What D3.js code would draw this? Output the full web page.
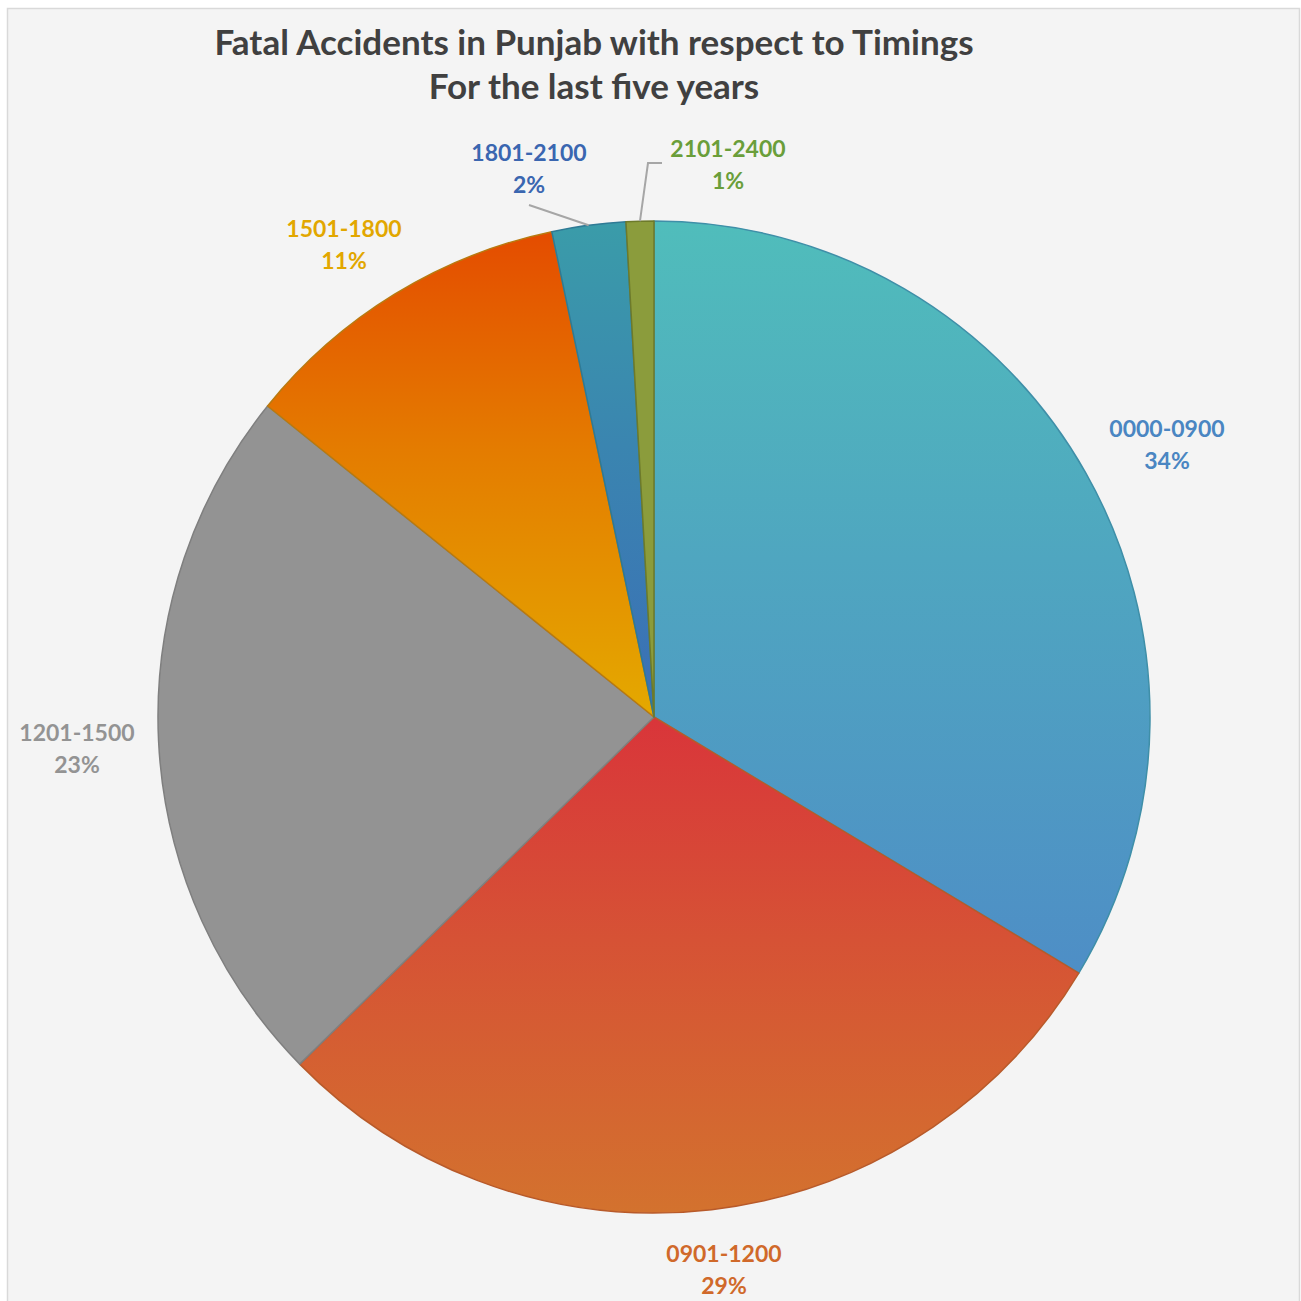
<!DOCTYPE html>
<html><head><meta charset="utf-8">
<script src="https://cdnjs.cloudflare.com/ajax/libs/d3/7.8.5/d3.min.js"></script>
<style>html,body{margin:0;padding:0;background:#fff;}svg{display:block;}</style>
</head><body>
<script>
const categories = ["0000-0900","0901-1200","1201-1500","1501-1800","1801-2100","2101-2400"];
const values = [33.6, 29.0, 23.1, 10.9, 2.4, 0.9];
const titleLines = ["Fatal Accidents in Punjab with respect to Timings","For the last five years"];
const gradTop = ["#50bdbb","#d9353a","#939393","#e44c00","#3a9ca9","#8b9c3c"];
const gradMid = ["#4fa6c0","#d65235","#939393","#e47c00","#3a85b0","#8b9c3c"];
const gradBot = ["#4e8ec6","#d3722e","#939393","#e4a900","#3b6fb6","#8b9c3c"];
const strokeCols = ["#3f8fa8","#b85a2a","#7f7f7f","#b87a10","#2f7a95","#6d7a2a"];
const labelCols = ["#4a86c2","#d0692a","#939393","#e2a700","#3a66b0","#6a9e3a"];

const W = 1301, H = 1301;
const svg = d3.select("body").append("svg").attr("width", W).attr("height", H);
svg.append("rect").attr("x",7.5).attr("y",8.5).attr("width",1292).attr("height",1300)
  .attr("fill","#f4f4f4").attr("stroke","#d9d9d9").attr("stroke-width",1.5);

const defs = svg.append("defs");
categories.forEach((c,i)=>{
  const g = defs.append("linearGradient").attr("id","g"+i)
    .attr("x1",0).attr("y1",0).attr("x2",0).attr("y2",1);
  g.append("stop").attr("offset","0%").attr("stop-color",gradTop[i]);
  g.append("stop").attr("offset","45%").attr("stop-color",gradMid[i]);
  g.append("stop").attr("offset","100%").attr("stop-color",gradBot[i]);
});

const cx = 654, cy = 717, R = 496;
const pie = d3.pie().sort(null).value(d=>d)(values);
const arc = d3.arc().innerRadius(0).outerRadius(R);
const gp = svg.append("g").attr("transform",`translate(${cx},${cy})`);
gp.selectAll("path").data(pie).join("path")
  .attr("d",arc)
  .attr("fill",(d,i)=>`url(#g${i})`)
  .attr("stroke",(d,i)=>strokeCols[i])
  .attr("stroke-width",1.5)
  .attr("stroke-linejoin","round");

const font = "Lato, 'Open Sans', sans-serif";
svg.append("g").selectAll("text").data(titleLines).join("text")
  .attr("x",594).attr("y",(d,i)=>55+i*44)
  .attr("text-anchor","middle")
  .attr("font-family",font).attr("font-weight","bold").attr("font-size",35)
  .attr("fill","#404040").text(d=>d);

const total = d3.sum(values);
// label anchor positions (centre x, first baseline y)
const labelPos = [[1167,437],[724,1262],[77,741],[344,237],[529,161],[728,157]];
const lg = svg.append("g");
categories.forEach((c,i)=>{
  const t = lg.append("text").attr("text-anchor","middle")
    .attr("font-family",font).attr("font-weight","bold").attr("font-size",23)
    .attr("fill",labelCols[i]);
  t.append("tspan").attr("x",labelPos[i][0]).attr("y",labelPos[i][1]).text(c);
  t.append("tspan").attr("x",labelPos[i][0]).attr("y",labelPos[i][1]+32)
    .text(Math.round(values[i]/total*100)+"%");
});

// leader lines
const pt = (d, r) => { const a = (d.startAngle+d.endAngle)/2; return [cx + r*Math.sin(a), cy - r*Math.cos(a)]; };
const p4 = pt(pie[4], R);
const p5 = pt(pie[5], R);
const line = d3.line();
svg.append("path").attr("d", line([[529,205], p4]))
  .attr("fill","none").attr("stroke","#a6a6a6").attr("stroke-width",2);
svg.append("path").attr("d", line([p5,[648,163],[662,163]]))
  .attr("fill","none").attr("stroke","#a6a6a6").attr("stroke-width",2);
</script>
</body></html>
